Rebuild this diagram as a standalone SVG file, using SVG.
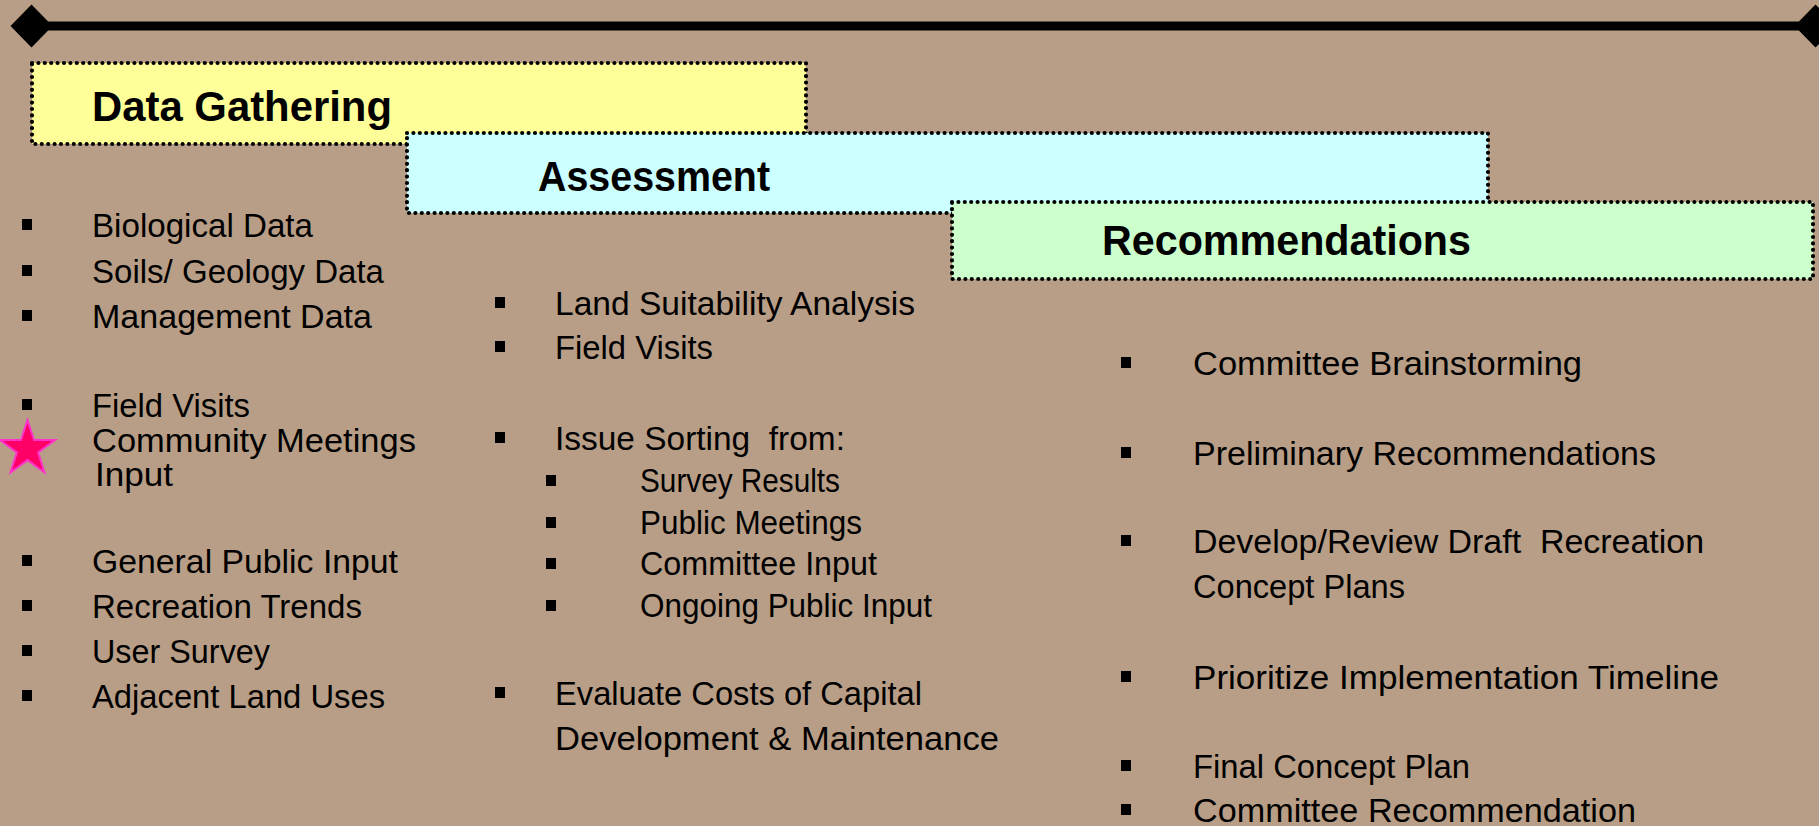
<svg xmlns="http://www.w3.org/2000/svg" width="1819" height="826" viewBox="0 0 1819 826">
<style>
.box{stroke:#000;stroke-width:4.2;stroke-dasharray:0 6.4;stroke-linecap:round}
.title{font-family:"Liberation Sans",Arial,sans-serif;font-weight:bold;font-size:42px;fill:#000}
.t{font-family:"Liberation Sans",Arial,sans-serif;font-size:33px;fill:#000;white-space:pre}
.tr{font-family:"Liberation Sans",Arial,sans-serif;font-size:34px;fill:#000;white-space:pre}
</style>
<defs>
<marker id="dia" viewBox="-22 -22 44 44" markerWidth="44" markerHeight="44" markerUnits="userSpaceOnUse" refX="0" refY="0" orient="auto">
<path d="M-21,0 L0,-21.5 L21,0 L0,21.5 Z" fill="#000"/>
</marker>
<rect id="bul" width="10" height="11"/>
</defs>
<rect x="0" y="0" width="1819" height="826" fill="#B89E86"/>

<g id="connectors">
<line x1="31.5" y1="26" x2="1815.5" y2="26" stroke="#000" stroke-width="9" marker-start="url(#dia)" marker-end="url(#dia)"/>
</g>

<g id="data-gathering">
<rect class="box" x="32" y="63" width="774" height="81" fill="#FFFF99"/>
<text class="title" x="92" y="121" textLength="300" lengthAdjust="spacingAndGlyphs">Data Gathering</text>
</g>
<g id="assessment">
<rect class="box" x="407" y="133" width="1081" height="80" fill="#CCFFFF"/>
<text class="title" x="538" y="191" textLength="232" lengthAdjust="spacingAndGlyphs">Assessment</text>
</g>
<g id="recommendations">
<rect class="box" x="952" y="202" width="861" height="77" fill="#CCFFCC"/>
<text class="title" x="1102" y="255" textLength="369" lengthAdjust="spacingAndGlyphs">Recommendations</text>
</g>

<g id="data-gathering-list">
<use href="#bul" x="22" y="219"/><text class="t" x="92" y="237" textLength="221" lengthAdjust="spacingAndGlyphs">Biological Data</text>
<use href="#bul" x="22" y="265"/><text class="t" x="92" y="283" textLength="292" lengthAdjust="spacingAndGlyphs">Soils/ Geology Data</text>
<use href="#bul" x="22" y="310"/><text class="t" x="92" y="328" textLength="280" lengthAdjust="spacingAndGlyphs">Management Data</text>
<use href="#bul" x="22" y="399"/><text class="t" x="92" y="417" textLength="158" lengthAdjust="spacingAndGlyphs">Field Visits</text>
<use href="#bul" x="22" y="434"/>
<polygon points="27.5,420 34,440 55.1,440 38.1,452.4 44.5,472.5 27.5,460.1 10.5,472.5 16.9,452.4 -0.1,440 21,440" fill="#FF0066" stroke="#FF33CC" stroke-width="2"/>
<text class="t" x="92" y="452" textLength="324" lengthAdjust="spacingAndGlyphs">Community Meetings</text>
<text class="t" x="95" y="486" textLength="78" lengthAdjust="spacingAndGlyphs">Input</text>
<use href="#bul" x="22" y="555"/><text class="t" x="92" y="573" textLength="306" lengthAdjust="spacingAndGlyphs">General Public Input</text>
<use href="#bul" x="22" y="600"/><text class="t" x="92" y="618" textLength="270" lengthAdjust="spacingAndGlyphs">Recreation Trends</text>
<use href="#bul" x="22" y="645"/><text class="t" x="92" y="663" textLength="178" lengthAdjust="spacingAndGlyphs">User Survey</text>
<use href="#bul" x="22" y="690"/><text class="t" x="92" y="708" textLength="293" lengthAdjust="spacingAndGlyphs">Adjacent Land Uses</text>
</g>

<g id="assessment-list">
<use href="#bul" x="495" y="297"/><text class="t" x="555" y="315" textLength="360" lengthAdjust="spacingAndGlyphs">Land Suitability Analysis</text>
<use href="#bul" x="495" y="341"/><text class="t" x="555" y="359" textLength="158" lengthAdjust="spacingAndGlyphs">Field Visits</text>
<use href="#bul" x="495" y="432"/><text class="t" x="555" y="450" textLength="290" lengthAdjust="spacingAndGlyphs">Issue Sorting  from:</text>
<use href="#bul" x="546" y="475"/><text class="t" x="640" y="492" textLength="200" lengthAdjust="spacingAndGlyphs">Survey Results</text>
<use href="#bul" x="546" y="517"/><text class="t" x="640" y="534" textLength="222" lengthAdjust="spacingAndGlyphs">Public Meetings</text>
<use href="#bul" x="546" y="558"/><text class="t" x="640" y="575" textLength="237" lengthAdjust="spacingAndGlyphs">Committee Input</text>
<use href="#bul" x="546" y="600"/><text class="t" x="640" y="617" textLength="292" lengthAdjust="spacingAndGlyphs">Ongoing Public Input</text>
<use href="#bul" x="495" y="687"/><text class="t" x="555" y="705" textLength="367" lengthAdjust="spacingAndGlyphs">Evaluate Costs of Capital</text>
<text class="t" x="555" y="750" textLength="444" lengthAdjust="spacingAndGlyphs">Development &amp; Maintenance</text>
</g>

<g id="recommendations-list">
<use href="#bul" x="1121" y="357"/><text class="tr" x="1193" y="375" textLength="389" lengthAdjust="spacingAndGlyphs">Committee Brainstorming</text>
<use href="#bul" x="1121" y="447"/><text class="tr" x="1193" y="465" textLength="463" lengthAdjust="spacingAndGlyphs">Preliminary Recommendations</text>
<use href="#bul" x="1121" y="535"/><text class="tr" x="1193" y="553" textLength="511" lengthAdjust="spacingAndGlyphs">Develop/Review Draft  Recreation</text>
<text class="tr" x="1193" y="598" textLength="212" lengthAdjust="spacingAndGlyphs">Concept Plans</text>
<use href="#bul" x="1121" y="671"/><text class="tr" x="1193" y="689" textLength="526" lengthAdjust="spacingAndGlyphs">Prioritize Implementation Timeline</text>
<use href="#bul" x="1121" y="760"/><text class="tr" x="1193" y="778" textLength="277" lengthAdjust="spacingAndGlyphs">Final Concept Plan</text>
<use href="#bul" x="1121" y="804"/><text class="tr" x="1193" y="822" textLength="443" lengthAdjust="spacingAndGlyphs">Committee Recommendation</text>
</g>
</svg>
